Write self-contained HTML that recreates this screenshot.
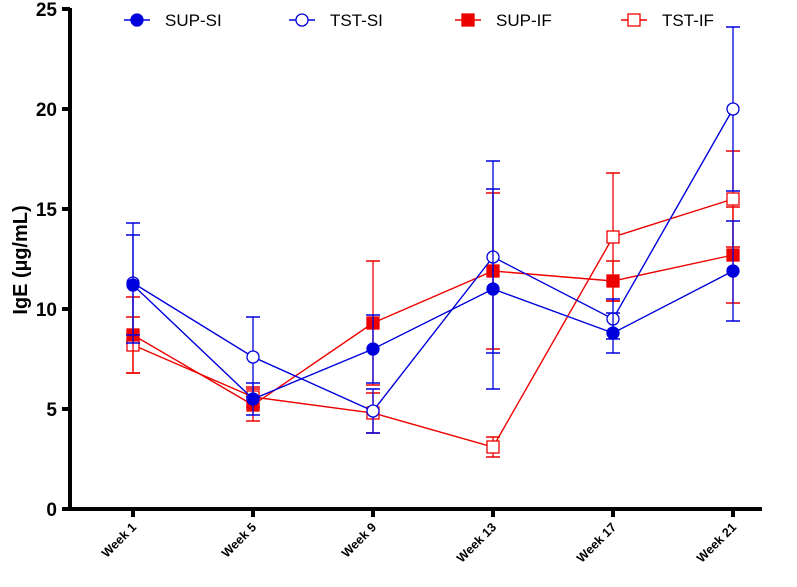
<!DOCTYPE html>
<html><head><meta charset="utf-8"><style>
body{margin:0;background:#fff}
svg{display:block;font-family:"Liberation Sans",Arial,sans-serif}
</style></head><body>
<svg id="chart" width="797" height="587"></svg>
<script>
const categories=["Week 1","Week 5","Week 9","Week 13","Week 17","Week 21"];
const yTicks=[0,5,10,15,20,25];
const supSI=[11.2,5.5,8.0,11.0,8.8,11.9];
const supSIerr=[2.5,0.8,1.7,5.0,1.0,2.5];
const tstSI=[11.3,7.6,4.9,12.6,9.5,20.0];
const tstSIerr=[3.0,2.0,1.1,4.8,1.0,4.1];
const supIF=[8.7,5.2,9.3,11.9,11.4,12.7];
const supIFerr=[1.9,0.8,3.1,3.9,1.0,2.4];
const tstIF=[8.2,5.6,4.8,3.1,13.6,15.5];
const tstIFerr=[1.4,0.5,1.0,0.5,3.2,2.4];
const seriesNames=["SUP-SI","TST-SI","SUP-IF","TST-IF"];

const svg=document.getElementById('chart');
const NS="http://www.w3.org/2000/svg";
function y(v){return 509-v*20;}
function x(i){return 133+i*120;}
function mk(tag,attrs,parent){const e=document.createElementNS(NS,tag);for(const k in attrs)e.setAttribute(k,attrs[k]);(parent||svg).appendChild(e);return e;}

// axes
const ax=mk('g',{});


mk('line',{x1:70,y1:8,x2:70,y2:511,stroke:'#000','stroke-width':4},ax);
mk('line',{x1:68,y1:509,x2:762,y2:509,stroke:'#000','stroke-width':4},ax);
yTicks.forEach(t=>{
  mk('line',{x1:62,y1:y(t),x2:70,y2:y(t),stroke:'#000','stroke-width':4},ax);
  const tx=mk('text',{x:57,y:y(t)+7,'text-anchor':'end','font-size':19,'font-weight':'bold'},ax);
  tx.textContent=t;
  
  
});
categories.forEach((c,i)=>{
  mk('line',{x1:x(i),y1:509,x2:x(i),y2:517,stroke:'#000','stroke-width':4},ax);
  const tx=mk('text',{x:x(i)+4,y:528,'text-anchor':'end','font-size':12.5,'font-weight':'bold',transform:`rotate(-45 ${x(i)+4} 528)`},ax);
  tx.textContent=c;
  
  
});
const yl=mk('text',{x:27,y:260,'text-anchor':'middle','font-size':20,'font-weight':'bold',transform:'rotate(-90 27 260)'});
yl.textContent="IgE (µg/mL)";



function marker(g,cx,cy,shape,color,filled){
  if(shape==='c') mk('circle',{cx,cy,r:6,fill:filled?color:'#fff',stroke:color,'stroke-width':1.3},g);
  else mk('rect',{x:cx-6,y:cy-6,width:12,height:12,fill:filled?color:'#fff',stroke:color,'stroke-width':1.3},g);
}
function drawSeries(vals,errs,color,shape,filled,name){
  const g=mk('g',{});
  
  
  vals.forEach((v,i)=>{
    mk('line',{x1:x(i),y1:y(v+errs[i]),x2:x(i),y2:y(v-errs[i]),stroke:color,'stroke-width':1.3},g);
    [v+errs[i],v-errs[i]].forEach(e=>mk('line',{x1:x(i)-7,y1:y(e),x2:x(i)+7,y2:y(e),stroke:color,'stroke-width':1.5},g));
  });
  mk('polyline',{points:vals.map((v,i)=>x(i)+','+y(v)).join(' '),fill:'none',stroke:color,'stroke-width':1.4},g);
  vals.forEach((v,i)=>{
    const m=mk('g',{},g);
    
    
    marker(m,x(i),y(v),shape,color,filled);
  });
}
drawSeries(tstIF,tstIFerr,'#e00','s',false,'series-tst-if');
drawSeries(supIF,supIFerr,'#e00','s',true,'series-sup-if');
drawSeries(tstSI,tstSIerr,'#0000dd','c',false,'series-tst-si');
drawSeries(supSI,supSIerr,'#0000dd','c',true,'series-sup-si');

// legend
const specs=[['#0000dd','c',true],['#0000dd','c',false],['#e00','s',true],['#e00','s',false]];
const lx=[137,302,468,634];
seriesNames.forEach((n,i)=>{
  const g=mk('g',{});
  
  
  mk('line',{x1:lx[i]-13,y1:20,x2:lx[i]+13,y2:20,stroke:specs[i][0],'stroke-width':1.4},g);
  marker(g,lx[i],20,specs[i][1],specs[i][0],specs[i][2]);
  const t=mk('text',{x:lx[i]+28,y:26,'font-size':17},g);
  t.textContent=n;
});
</script>
</body></html>
